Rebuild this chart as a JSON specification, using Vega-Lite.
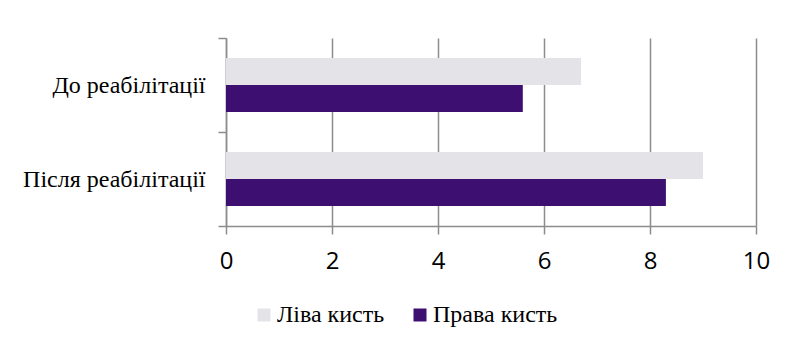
{
  "$schema": "https://vega.github.io/schema/vega-lite/v6.json",
  "autosize": {"type": "none"},
  "width": 530,
  "height": 188,
  "padding": {"left": 226, "top": 38, "right": 37, "bottom": 121},
  "background": "white",
  "data": {
    "values": [
      {"stage": "До реабілітації", "hand": "Ліва кисть", "value": 6.7},
      {"stage": "До реабілітації", "hand": "Права кисть", "value": 5.6},
      {"stage": "Після реабілітації", "hand": "Ліва кисть", "value": 9.0},
      {"stage": "Після реабілітації", "hand": "Права кисть", "value": 8.3}
    ]
  },
  "mark": {"type": "bar"},
  "encoding": {
    "y": {
      "field": "stage",
      "type": "nominal",
      "sort": ["До реабілітації", "Після реабілітації"],
      "title": null,
      "scale": {"paddingInner": 0, "paddingOuter": 0},
      "axis": {
        "tickBand": "extent",
        "grid": false,
        "domainColor": "#8c8c8c",
        "domainWidth": 1.5,
        "tickColor": "#8c8c8c",
        "tickWidth": 1.5,
        "tickSize": 8,
        "labelFont": "Liberation Serif",
        "labelFontSize": 24,
        "labelColor": "#000000",
        "labelPadding": 13,
        "labelLimit": 400
      }
    },
    "yOffset": {
      "field": "hand",
      "type": "nominal",
      "sort": ["Ліва кисть", "Права кисть"],
      "scale": {"paddingInner": 0, "paddingOuter": 0.74}
    },
    "x": {
      "field": "value",
      "type": "quantitative",
      "title": null,
      "scale": {"domain": [0, 10], "nice": false},
      "axis": {
        "values": [0, 2, 4, 6, 8, 10],
        "grid": true,
        "gridColor": "#8c8c8c",
        "gridWidth": 1.5,
        "domainColor": "#8c8c8c",
        "domainWidth": 1.5,
        "tickColor": "#8c8c8c",
        "tickWidth": 1.5,
        "tickSize": 8,
        "labelFont": "Open Sans",
        "labelFontSize": 24,
        "labelColor": "#000000",
        "labelPadding": 15,
        "labelFlush": false
      }
    },
    "color": {
      "field": "hand",
      "type": "nominal",
      "sort": ["Ліва кисть", "Права кисть"],
      "scale": {"domain": ["Ліва кисть", "Права кисть"], "range": ["#e4e4e8", "#3d0f70"]},
      "legend": {
        "title": null,
        "orient": "none",
        "legendX": 26,
        "legendY": 265,
        "direction": "horizontal",
        "columns": 2,
        "symbolType": "square",
        "symbolSize": 169,
        "symbolStrokeWidth": 0,
        "labelFont": "Liberation Serif",
        "labelFontSize": 24,
        "labelColor": "#000000",
        "labelOffset": 1,
        "columnPadding": 23
      }
    }
  },
  "config": {
    "view": {"stroke": null},
    "axis": {"gridCap": "butt"}
  }
}
